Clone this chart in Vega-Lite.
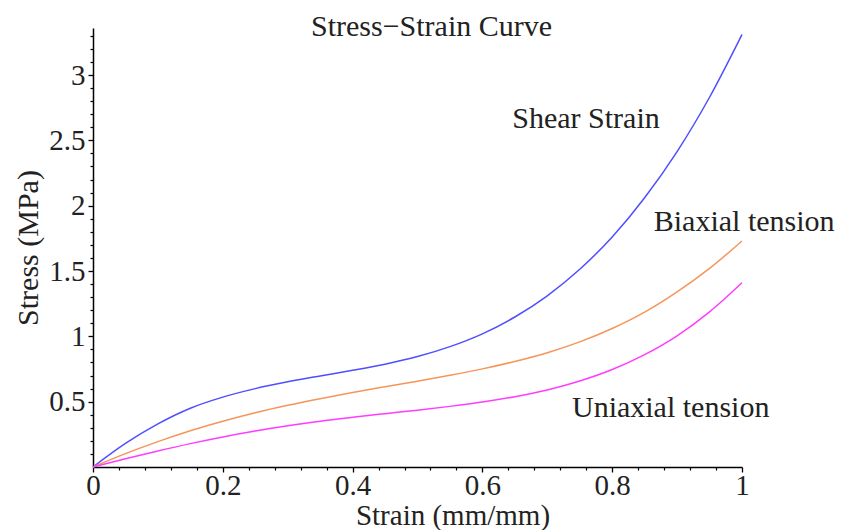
{
  "$schema": "https://vega.github.io/schema/vega-lite/v6.json",
  "width": 649,
  "height": 439,
  "autosize": "none",
  "padding": {"left": 93, "top": 28, "right": 102, "bottom": 63},
  "background": "white",
  "config": {"view": {"stroke": null}, "font": "Liberation Serif"},
  "title": {
    "text": "Stress\u2212Strain Curve",
    "anchor": "middle",
    "frame": "group",
    "dx": 14,
    "dy": 28,
    "offset": -10,
    "baseline": "alphabetic",
    "font": "Liberation Serif",
    "fontSize": 30,
    "fontWeight": "normal",
    "color": "#222222"
  },
  "datasets": {
    "curves": [
      {"strain": 0, "stress": 0, "curve": "Shear Strain"},
      {"strain": 0.05, "stress": 0.18, "curve": "Shear Strain"},
      {"strain": 0.1, "stress": 0.33, "curve": "Shear Strain"},
      {"strain": 0.15, "stress": 0.45, "curve": "Shear Strain"},
      {"strain": 0.2, "stress": 0.535, "curve": "Shear Strain"},
      {"strain": 0.25, "stress": 0.6, "curve": "Shear Strain"},
      {"strain": 0.3, "stress": 0.652, "curve": "Shear Strain"},
      {"strain": 0.35, "stress": 0.697, "curve": "Shear Strain"},
      {"strain": 0.4, "stress": 0.74, "curve": "Shear Strain"},
      {"strain": 0.45, "stress": 0.787, "curve": "Shear Strain"},
      {"strain": 0.5, "stress": 0.845, "curve": "Shear Strain"},
      {"strain": 0.55, "stress": 0.921, "curve": "Shear Strain"},
      {"strain": 0.6, "stress": 1.019, "curve": "Shear Strain"},
      {"strain": 0.65, "stress": 1.148, "curve": "Shear Strain"},
      {"strain": 0.7, "stress": 1.31, "curve": "Shear Strain"},
      {"strain": 0.75, "stress": 1.513, "curve": "Shear Strain"},
      {"strain": 0.8, "stress": 1.761, "curve": "Shear Strain"},
      {"strain": 0.85, "stress": 2.061, "curve": "Shear Strain"},
      {"strain": 0.9, "stress": 2.414, "curve": "Shear Strain"},
      {"strain": 0.95, "stress": 2.83, "curve": "Shear Strain"},
      {"strain": 1, "stress": 3.31, "curve": "Shear Strain"},
      {"strain": 0, "stress": 0, "curve": "Biaxial tension"},
      {"strain": 0.05, "stress": 0.102, "curve": "Biaxial tension"},
      {"strain": 0.1, "stress": 0.194, "curve": "Biaxial tension"},
      {"strain": 0.15, "stress": 0.277, "curve": "Biaxial tension"},
      {"strain": 0.2, "stress": 0.35, "curve": "Biaxial tension"},
      {"strain": 0.25, "stress": 0.415, "curve": "Biaxial tension"},
      {"strain": 0.3, "stress": 0.472, "curve": "Biaxial tension"},
      {"strain": 0.35, "stress": 0.523, "curve": "Biaxial tension"},
      {"strain": 0.4, "stress": 0.57, "curve": "Biaxial tension"},
      {"strain": 0.45, "stress": 0.614, "curve": "Biaxial tension"},
      {"strain": 0.5, "stress": 0.657, "curve": "Biaxial tension"},
      {"strain": 0.55, "stress": 0.702, "curve": "Biaxial tension"},
      {"strain": 0.6, "stress": 0.751, "curve": "Biaxial tension"},
      {"strain": 0.65, "stress": 0.808, "curve": "Biaxial tension"},
      {"strain": 0.7, "stress": 0.875, "curve": "Biaxial tension"},
      {"strain": 0.75, "stress": 0.958, "curve": "Biaxial tension"},
      {"strain": 0.8, "stress": 1.06, "curve": "Biaxial tension"},
      {"strain": 0.85, "stress": 1.185, "curve": "Biaxial tension"},
      {"strain": 0.9, "stress": 1.34, "curve": "Biaxial tension"},
      {"strain": 0.95, "stress": 1.52, "curve": "Biaxial tension"},
      {"strain": 1, "stress": 1.73, "curve": "Biaxial tension"},
      {"strain": 0, "stress": 0, "curve": "Uniaxial tension"},
      {"strain": 0.05, "stress": 0.063, "curve": "Uniaxial tension"},
      {"strain": 0.1, "stress": 0.123, "curve": "Uniaxial tension"},
      {"strain": 0.15, "stress": 0.179, "curve": "Uniaxial tension"},
      {"strain": 0.2, "stress": 0.23, "curve": "Uniaxial tension"},
      {"strain": 0.25, "stress": 0.275, "curve": "Uniaxial tension"},
      {"strain": 0.3, "stress": 0.315, "curve": "Uniaxial tension"},
      {"strain": 0.35, "stress": 0.35, "curve": "Uniaxial tension"},
      {"strain": 0.4, "stress": 0.38, "curve": "Uniaxial tension"},
      {"strain": 0.45, "stress": 0.408, "curve": "Uniaxial tension"},
      {"strain": 0.5, "stress": 0.435, "curve": "Uniaxial tension"},
      {"strain": 0.55, "stress": 0.464, "curve": "Uniaxial tension"},
      {"strain": 0.6, "stress": 0.497, "curve": "Uniaxial tension"},
      {"strain": 0.65, "stress": 0.538, "curve": "Uniaxial tension"},
      {"strain": 0.7, "stress": 0.59, "curve": "Uniaxial tension"},
      {"strain": 0.75, "stress": 0.658, "curve": "Uniaxial tension"},
      {"strain": 0.8, "stress": 0.746, "curve": "Uniaxial tension"},
      {"strain": 0.85, "stress": 0.86, "curve": "Uniaxial tension"},
      {"strain": 0.9, "stress": 1.004, "curve": "Uniaxial tension"},
      {"strain": 0.95, "stress": 1.187, "curve": "Uniaxial tension"},
      {"strain": 1, "stress": 1.41, "curve": "Uniaxial tension"}
    ],
    "labels": [
      {"label": "Shear Strain", "strain": 0.646, "stress": 2.66},
      {"label": "Biaxial tension", "strain": 0.864, "stress": 1.875},
      {"label": "Uniaxial tension", "strain": 0.738, "stress": 0.45}
    ]
  },
  "layer": [
    {
      "data": {"name": "curves"},
      "mark": {"type": "line", "interpolate": "monotone", "strokeWidth": 1.5},
      "encoding": {
        "x": {
          "field": "strain", "type": "quantitative",
          "scale": {"domain": [0, 1], "nice": false, "zero": false},
          "axis": {
            "orient": "bottom",
            "values": [0, 0.2, 0.4, 0.6, 0.8, 1],
            "format": ".1~f",
            "grid": false,
            "domainColor": "#000000", "domainWidth": 1.5,
            "tickColor": "#000000", "tickWidth": 1.3, "tickSize": 5,
            "labelFont": "Liberation Serif", "labelFontSize": 29, "labelColor": "#222222",
            "labelBaseline": "alphabetic", "labelPadding": 22,
            "labelFlush": false, "labelOverlap": false,
            "title": "Strain (mm/mm)",
            "titleFont": "Liberation Serif", "titleFontSize": 29, "titleFontWeight": "normal", "titleColor": "#222222",
            "titleX": 359.5, "titleY": 57, "titleAlign": "center", "titleBaseline": "alphabetic"
          }
        },
        "y": {
          "field": "stress", "type": "quantitative",
          "scale": {"domain": [0, 3.36], "nice": false, "zero": false},
          "axis": {
            "orient": "left",
            "values": [0.5, 1, 1.5, 2, 2.5, 3],
            "format": "~g",
            "labelExpr": "datum.value % 1 === 0 ? datum.label + '\u2002' : datum.label",
            "grid": false,
            "domainColor": "#000000", "domainWidth": 1.5,
            "tickColor": "#000000", "tickWidth": 1.3, "tickSize": 5,
            "labelFont": "Liberation Serif", "labelFontSize": 29, "labelColor": "#222222",
            "labelBaseline": "middle", "labelPadding": 3,
            "labelFlush": false, "labelOverlap": false,
            "title": "Stress (MPa)",
            "titleFont": "Liberation Serif", "titleFontSize": 30, "titleFontWeight": "normal", "titleColor": "#222222",
            "titleX": -65, "titleY": 219.5, "titleAngle": -90, "titleAlign": "center", "titleBaseline": "middle"
          }
        },
        "color": {
          "field": "curve", "type": "nominal",
          "scale": {"domain": ["Shear Strain", "Biaxial tension", "Uniaxial tension"], "range": ["#4f4fff", "#f5955a", "#ff3cff"]},
          "legend": null
        }
      }
    },
    {
      "data": {"name": "labels"},
      "mark": {"type": "text", "align": "left", "baseline": "middle", "font": "Liberation Serif", "fontSize": 30, "color": "#222222"},
      "encoding": {
        "x": {
          "field": "strain", "type": "quantitative",
          "axis": {
            "orient": "bottom",
            "values": [0.04, 0.08, 0.12, 0.16, 0.24, 0.28, 0.32, 0.36, 0.44, 0.48, 0.52, 0.56, 0.64, 0.68, 0.72, 0.76, 0.84, 0.88, 0.92, 0.96],
            "labels": false, "domain": false, "grid": false,
            "tickColor": "#000000", "tickWidth": 1.2, "tickSize": 3,
            "title": null
          }
        },
        "y": {
          "field": "stress", "type": "quantitative",
          "axis": {
            "orient": "left",
            "values": [0.1, 0.2, 0.3, 0.4, 0.6, 0.7, 0.8, 0.9, 1.1, 1.2, 1.3, 1.4, 1.6, 1.7, 1.8, 1.9, 2.1, 2.2, 2.3, 2.4, 2.6, 2.7, 2.8, 2.9, 3.1, 3.2, 3.3],
            "labels": false, "domain": false, "grid": false,
            "tickColor": "#000000", "tickWidth": 1.2, "tickSize": 3,
            "title": null
          }
        },
        "text": {"field": "label", "type": "nominal"}
      }
    },
    {
      "mark": {"type": "point", "shape": "M -2 -0.8 L 0 0 L -2 0.8", "filled": false, "size": 36, "stroke": "#000000", "strokeWidth": 1.5, "opacity": 1},
      "encoding": {
        "x": {"datum": 1, "type": "quantitative", "axis": null},
        "y": {"datum": 0, "type": "quantitative", "axis": null}
      }
    },
    {
      "mark": {"type": "point", "shape": "M -0.8 2 L 0 0 L 0.8 2", "filled": false, "size": 36, "stroke": "#000000", "strokeWidth": 1.5, "opacity": 1},
      "encoding": {
        "x": {"datum": 0, "type": "quantitative", "axis": null},
        "y": {"datum": 3.36, "type": "quantitative", "axis": null}
      }
    }
  ],
  "resolve": {"axis": {"x": "independent", "y": "independent"}}
}
